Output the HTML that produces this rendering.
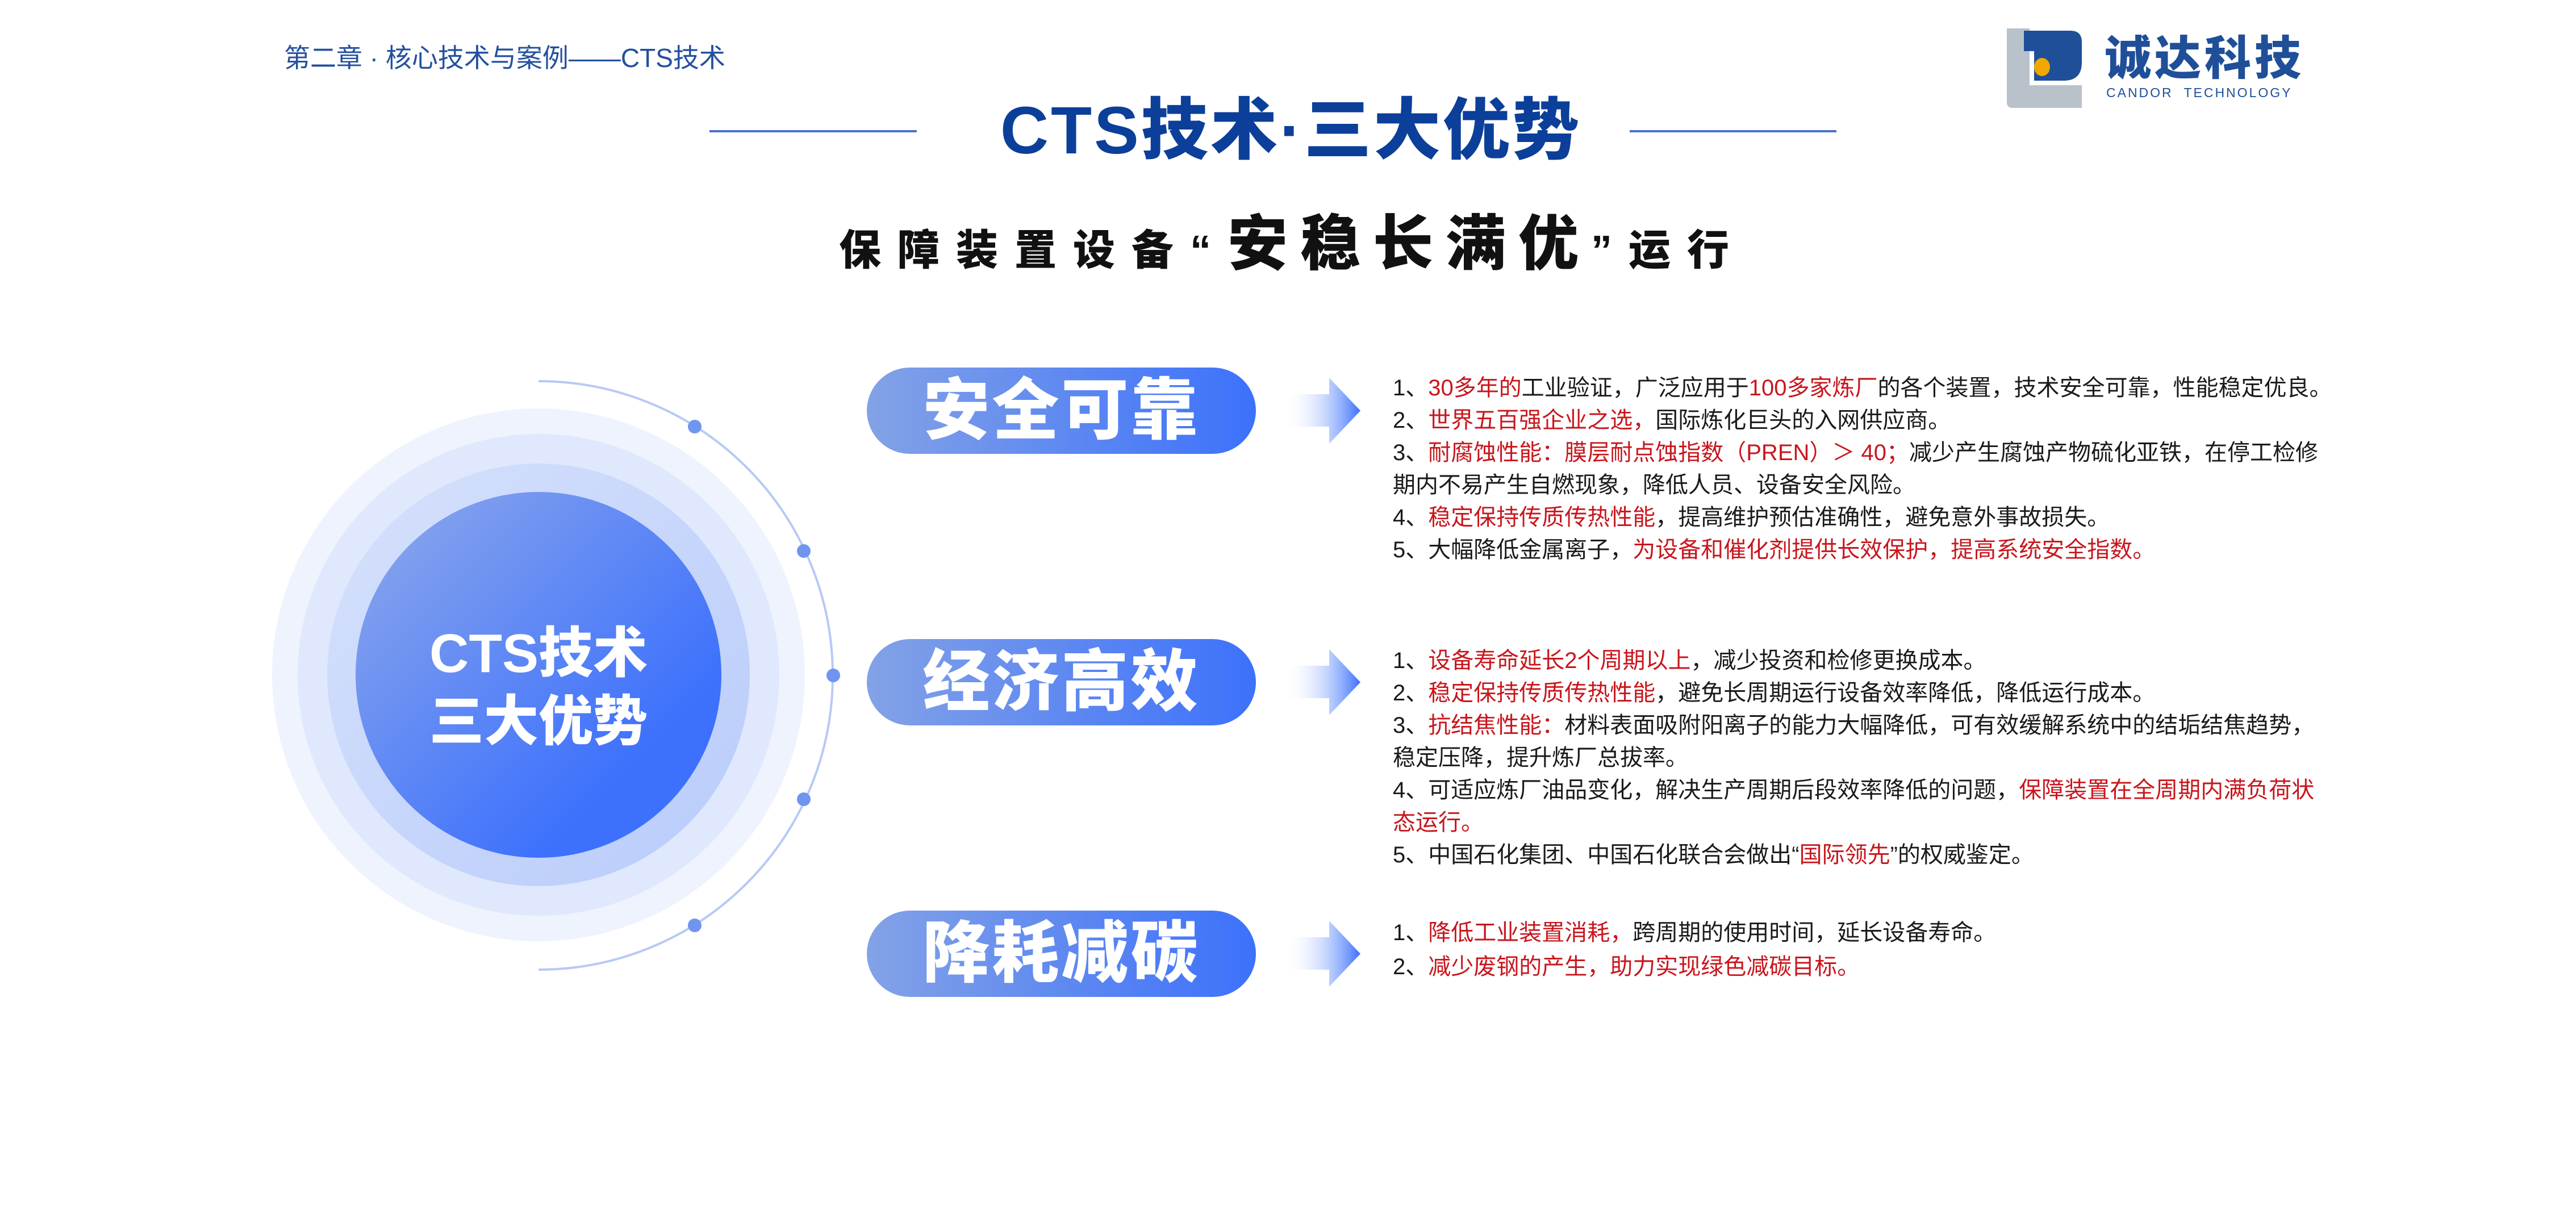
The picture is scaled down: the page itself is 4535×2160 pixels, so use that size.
<!DOCTYPE html>
<html><head><meta charset="utf-8"><style>
html,body{margin:0;padding:0;background:#fff}
body{width:4535px;height:2160px;position:relative;overflow:hidden;font-family:"Liberation Sans","Noto Sans CJK SC",sans-serif}
.a{position:absolute;white-space:nowrap}
.hdr{left:500px;top:66px;font-size:46px;color:#24509e}
.title{left:0;width:4545px;top:160px;text-align:center;font-size:118px;font-weight:900;color:#0b3f9a;line-height:140px;letter-spacing:4px}
.hl{position:absolute;height:4px;background:#4a72c8;top:229px}
.sub{left:0;width:4550px;top:355px;text-align:center;font-weight:900;color:#111;line-height:150px}
.sub .s{font-size:74px;letter-spacing:29px}
.sub .b{font-size:106px;letter-spacing:22px}
.pill{position:absolute;left:1526px;width:685px;height:152px;border-radius:76px;background:linear-gradient(90deg,#83a2e6,#3c71fb);color:#fff;font-size:118px;font-weight:900;text-align:center;line-height:152px;letter-spacing:4px}
.txt{position:absolute;left:2452px;font-size:40px;line-height:57px;color:#1a1a1a}
.txt div{white-space:nowrap}
.r{color:#c8161d}
</style></head><body>
<div class="a hdr">第二章 · 核心技术与案例——CTS技术</div>

<svg class="a" style="left:3525px;top:50px" width="150" height="142" viewBox="0 0 150 142">
<path d="M8 0 L8 130 Q8 140 18 140 L140 140 L140 100 L48 100 L48 0 Z" fill="#b9c2cb"/>
<path d="M38 4 L120 4 Q140 4 140 24 L140 60 Q140 92 108 92 L56 92 L56 40 L38 40 Z" fill="#1f4f99"/>
<ellipse cx="70" cy="68" rx="14" ry="16" fill="#f0a800"/>
</svg>
<div class="a" style="left:3705px;top:56px;font-size:82px;font-weight:900;color:#1f4f99;letter-spacing:6px;line-height:96px">诚达科技</div>
<div class="a" style="left:3708px;top:150px;font-size:23px;color:#1f4f99;letter-spacing:3px">CANDOR&nbsp;&nbsp;TECHNOLOGY</div>

<div class="hl" style="left:1249px;width:365px"></div>
<div class="hl" style="left:2869px;width:364px"></div>
<div class="a title">CTS技术·三大优势</div>
<div class="a sub"><span class="s">保障装置设备“</span><span class="b">安稳长满优</span><span class="s">”运行</span></div>

<svg class="a" style="left:0;top:0" width="2500" height="2160">
<defs>
<linearGradient id="g1" x1="0" y1="0" x2="1" y2="1"><stop offset="0" stop-color="#8fa9ea"/><stop offset="0.75" stop-color="#3d71fd"/></linearGradient>
<linearGradient id="g3" x1="0" y1="0" x2="1" y2="1"><stop offset="0" stop-color="#d6e1fb"/><stop offset="1" stop-color="#b8cbfb"/></linearGradient>
<linearGradient id="ga" gradientUnits="userSpaceOnUse" x1="2262" y1="0" x2="2395" y2="0"><stop offset="0" stop-color="#fff" stop-opacity="0"/><stop offset="1" stop-color="#3c71fb"/></linearGradient>
</defs>
<circle cx="948" cy="1188" r="469" fill="#eef3fd"/>
<circle cx="948" cy="1188" r="424" fill="#dfe8fc"/>
<circle cx="948" cy="1188" r="372" fill="url(#g3)"/>
<circle cx="948" cy="1188" r="322" fill="url(#g1)"/>
<path d="M948 671 A518 518 0 0 1 948 1707" fill="none" stroke="#b7c9f6" stroke-width="4"/>
<g fill="#6f95f0">
<circle cx="1223" cy="751" r="12"/><circle cx="1415" cy="970" r="12"/><circle cx="1467" cy="1189" r="12"/><circle cx="1415" cy="1407" r="12"/><circle cx="1223" cy="1629" r="12"/>
</g>
<text x="948" y="1183" text-anchor="middle" font-size="96" font-weight="900" fill="#fff" font-family="Liberation Sans,Noto Sans CJK SC,sans-serif">CTS技术</text>
<text x="948" y="1303" text-anchor="middle" font-size="96" font-weight="900" fill="#fff" font-family="Noto Sans CJK SC,sans-serif">三大优势</text>
<g fill="url(#ga)">
<path d="M2262 694 L2340 694 L2340 665 L2395 723 L2340 781 L2340 751 L2262 751 Z"/>
<path d="M2262 1172 L2340 1172 L2340 1143 L2395 1201 L2340 1259 L2340 1229 L2262 1229 Z"/>
<path d="M2262 1650 L2340 1650 L2340 1621 L2395 1679 L2340 1737 L2340 1707 L2262 1707 Z"/>
</g>
</svg>

<div class="pill" style="top:647px">安全可靠</div>
<div class="pill" style="top:1125px">经济高效</div>
<div class="pill" style="top:1603px">降耗减碳</div>

<div class="txt" style="top:655px">
<div>1、<span class="r">30多年的</span>工业验证，广泛应用于<span class="r">100多家炼厂</span>的各个装置，技术安全可靠，性能稳定优良。</div>
<div>2、<span class="r">世界五百强企业之选，</span>国际炼化巨头的入网供应商。</div>
<div>3、<span class="r">耐腐蚀性能：膜层耐点蚀指数（PREN）＞ 40；</span>减少产生腐蚀产物硫化亚铁，在停工检修</div>
<div>期内不易产生自燃现象，降低人员、设备安全风险。</div>
<div>4、<span class="r">稳定保持传质传热性能</span>，提高维护预估准确性，避免意外事故损失。</div>
<div>5、大幅降低金属离子，<span class="r">为设备和催化剂提供长效保护，提高系统安全指数。</span></div>
</div>
<div class="txt" style="top:1135px">
<div>1、<span class="r">设备寿命延长2个周期以上</span>，减少投资和检修更换成本。</div>
<div>2、<span class="r">稳定保持传质传热性能</span>，避免长周期运行设备效率降低，降低运行成本。</div>
<div>3、<span class="r">抗结焦性能：</span>材料表面吸附阳离子的能力大幅降低，可有效缓解系统中的结垢结焦趋势，</div>
<div>稳定压降，提升炼厂总拔率。</div>
<div>4、可适应炼厂油品变化，解决生产周期后段效率降低的问题，<span class="r">保障装置在全周期内满负荷状</span></div>
<div><span class="r">态运行。</span></div>
<div>5、中国石化集团、中国石化联合会做出“<span class="r">国际领先</span>”的权威鉴定。</div>
</div>
<div class="txt" style="top:1612px;line-height:60px">
<div>1、<span class="r">降低工业装置消耗，</span>跨周期的使用时间，延长设备寿命。</div>
<div>2、<span class="r">减少废钢的产生，助力实现绿色减碳目标。</span></div>
</div>
</body></html>
